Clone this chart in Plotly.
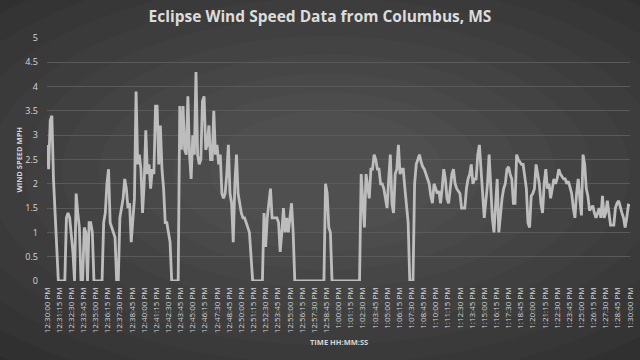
import plotly.graph_objects as go

# Wind speed (mph), one reading every 10 s from 12:30:00 PM to 1:30:00 PM
wind_mph = [
    2.8, 2.3, 3.3, 3.4, 2.1, 1.4, 0.8, 0, 0, 0,
    0, 0, 1.3, 1.4, 1.3, 0.9, 0.6, 0, 1.8, 1.4,
    1.1, 0, 0, 1.1, 1.0, 0, 1.2, 1.2, 1.0, 0,
    0, 0, 0, 0, 0, 1.2, 1.4, 2.0, 2.3, 1.2,
    1.1, 1.0, 0.9, 0, 0, 1.3, 1.5, 1.7, 2.1, 1.9,
    1.5, 1.6, 0.8, 1.3, 1.7, 3.9, 2.4, 2.6, 2.3, 1.4,
    2.0, 3.1, 2.2, 2.4, 1.9, 2.3, 2.2, 3.6, 3.6, 2.4,
    3.2, 2.3, 1.9, 1.2, 1.2, 1.0, 0.8, 0, 0, 0,
    0, 0, 3.6, 2.7, 3.6, 2.7, 2.6, 3.8, 2.6, 2.1,
    3.0, 2.6, 4.3, 2.6, 2.4, 2.5, 3.7, 3.8, 2.7, 2.8,
    3.2, 2.5, 2.5, 3.5, 2.6, 2.8, 2.4, 2.6, 1.8, 1.7,
    1.8, 2.2, 2.8, 1.8, 1.6, 0.8, 2.0, 2.6, 1.8, 1.6,
    1.4, 1.3, 1.3, 1.2, 1.1, 1.0, 0.5, 0, 0, 0,
    0, 0, 0, 0, 1.4, 0.7, 1.3, 1.6, 1.9, 1.3,
    1.3, 1.3, 1.3, 1.2, 0.6, 1.0, 1.5, 1.0, 1.3, 1.0,
    1.3, 1.6, 1.0, 0, 0, 0, 0, 0, 0, 0,
    0, 0, 0, 0, 0, 0, 0, 0, 0, 0,
    0, 0, 2.0, 1.8, 1.1, 1.0, 0, 0, 0, 0,
    0, 0, 0, 0, 0, 0, 0, 0, 0, 0,
    0, 0, 0, 0, 2.2, 1.6, 1.1, 2.2, 1.9, 1.7,
    2.3, 2.3, 2.6, 2.5, 2.3, 2.3, 2.0, 2.0, 1.9, 1.7,
    1.5, 2.1, 2.6, 1.6, 1.4, 2.2, 2.3, 2.8, 2.2, 2.3,
    2.3, 1.9, 1.5, 1.2, 0, 0, 0, 2.0, 2.4, 2.5,
    2.6, 2.45, 2.35, 2.3, 2.2, 2.1, 2.0, 1.75, 1.6, 2.0,
    1.9, 1.8, 1.85, 1.6, 1.9, 2.3, 2.1, 1.7, 1.6, 1.9,
    2.2, 2.3, 2.0, 1.9, 1.85, 1.8, 1.5, 1.5, 1.5, 1.9,
    2.1, 2.2, 2.4, 2.0, 2.1, 2.1, 2.6, 2.8, 2.2, 1.8,
    1.3, 1.7, 2.0, 2.6, 1.9, 1.3, 1.0, 1.5, 2.1, 1.0,
    1.4, 1.7, 1.9, 2.0, 2.3, 2.35, 2.2, 2.1, 1.6, 1.6,
    2.6, 2.5, 2.45, 2.4, 2.4, 2.1, 1.9, 1.2, 1.1, 1.75,
    1.8, 1.9, 2.4, 2.2, 2.0, 1.6, 1.4, 2.0, 2.3, 1.9,
    2.0, 1.7, 1.9, 2.1, 2.0, 2.1, 2.3, 2.2, 2.15, 2.1,
    2.1, 2.0, 2.05, 1.9, 1.8, 1.5, 1.3, 1.8, 2.1, 1.7,
    1.35, 2.6, 2.4, 1.9, 1.75, 1.45, 1.5, 1.55, 1.4, 1.3,
    1.4, 1.5, 1.3, 1.75, 1.3, 1.4, 1.65, 1.4, 1.15, 1.15,
    1.15, 1.5, 1.6, 1.65, 1.5, 1.4, 1.3, 1.1, 1.3, 1.56,
    1.55,
]

sample_step_s = 10
tick_step_s = 75
tick_labels = [
    "12:30:00 PM", "12:31:15 PM", "12:32:30 PM", "12:33:45 PM", "12:35:00 PM",
    "12:36:15 PM", "12:37:30 PM", "12:38:45 PM", "12:40:00 PM", "12:41:15 PM",
    "12:42:30 PM", "12:43:45 PM", "12:45:00 PM", "12:46:15 PM", "12:47:30 PM",
    "12:48:45 PM", "12:50:00 PM", "12:51:15 PM", "12:52:30 PM", "12:53:45 PM",
    "12:55:00 PM", "12:56:15 PM", "12:57:30 PM", "12:58:45 PM", "1:00:00 PM",
    "1:01:15 PM", "1:02:30 PM", "1:03:45 PM", "1:05:00 PM", "1:06:15 PM",
    "1:07:30 PM", "1:08:45 PM", "1:10:00 PM", "1:11:15 PM", "1:12:30 PM",
    "1:13:45 PM", "1:15:00 PM", "1:16:15 PM", "1:17:30 PM", "1:18:45 PM",
    "1:20:00 PM", "1:21:15 PM", "1:22:30 PM", "1:23:45 PM", "1:25:00 PM",
    "1:26:15 PM", "1:27:30 PM", "1:28:45 PM", "1:30:00 PM",
]

seconds = [i * sample_step_s for i in range(len(wind_mph))]
tick_vals = [i * tick_step_s for i in range(len(tick_labels))]

TXT = "#d6d6d6"
FONT = "Open Sans"

fig = go.Figure()
fig.add_trace(go.Scatter(
    x=seconds, y=wind_mph, mode="lines",
    line=dict(color="#bdbdbd", width=2.8),
    hoverinfo="skip", showlegend=False,
))

# vignette background (radial-ish gradient)
shapes = []
n = 12
for k in range(n):
    f = k / (n - 1)
    rx = 0.9 - 0.7 * f
    ry = 1.1 - 0.85 * f
    shapes.append(dict(
        type="circle", xref="paper", yref="paper", layer="below",
        x0=0.48 - rx, x1=0.48 + rx, y0=0.45 - ry, y1=0.45 + ry,
        fillcolor="rgba(255,255,255,0.02)", line=dict(width=0),
    ))

fig.update_layout(
    width=640, height=360,
    margin=dict(l=47, r=10, t=38, b=79, autoexpand=False),
    paper_bgcolor="#282828",
    plot_bgcolor="rgba(0,0,0,0)",
    shapes=shapes,
    font=dict(family=FONT, color=TXT),
    title=dict(
        text="<b>Eclipse Wind Speed Data from Columbus, MS</b>",
        x=0.5, xref="container", xanchor="center",
        y=1 - 17 / 360, yref="container", yanchor="middle",
        font=dict(family=FONT, size=15.5, color="#dcdcdc"),
    ),
    xaxis=dict(
        range=[0, 3600], tickmode="array", tickvals=tick_vals, ticktext=tick_labels,
        tickangle=-90, tickfont=dict(size=8, color=TXT, family=FONT),
        showgrid=False, zeroline=False, showline=False, ticks="",
        ticklabelstandoff=4, automargin=False,
    ),
    yaxis=dict(
        range=[0, 5], dtick=0.5, tickfont=dict(size=9, color=TXT, family=FONT),
        showgrid=True, gridcolor="#5a5a5a", gridwidth=1, zeroline=False,
        showline=False, ticks="", ticklabelstandoff=8, automargin=False,
    ),
    annotations=[
        dict(text="<b>WIND SPEED MPH</b>", xref="paper", yref="paper",
             x=0, y=0.5, xshift=-29, textangle=-90, showarrow=False,
             xanchor="center", yanchor="middle",
             font=dict(size=7.5, color=TXT, family=FONT)),
        dict(text="<b>TIME HH:MM:SS</b>", xref="paper", yref="paper",
             x=0.5, y=0, yshift=-61, showarrow=False,
             xanchor="center", yanchor="middle",
             font=dict(size=7.5, color=TXT, family=FONT)),
    ],
)

fig.write_html(
    "out.html",
    config={"displayModeBar": False},
    post_script="document.body.style.margin='0';document.body.style.overflow='hidden';",
)
